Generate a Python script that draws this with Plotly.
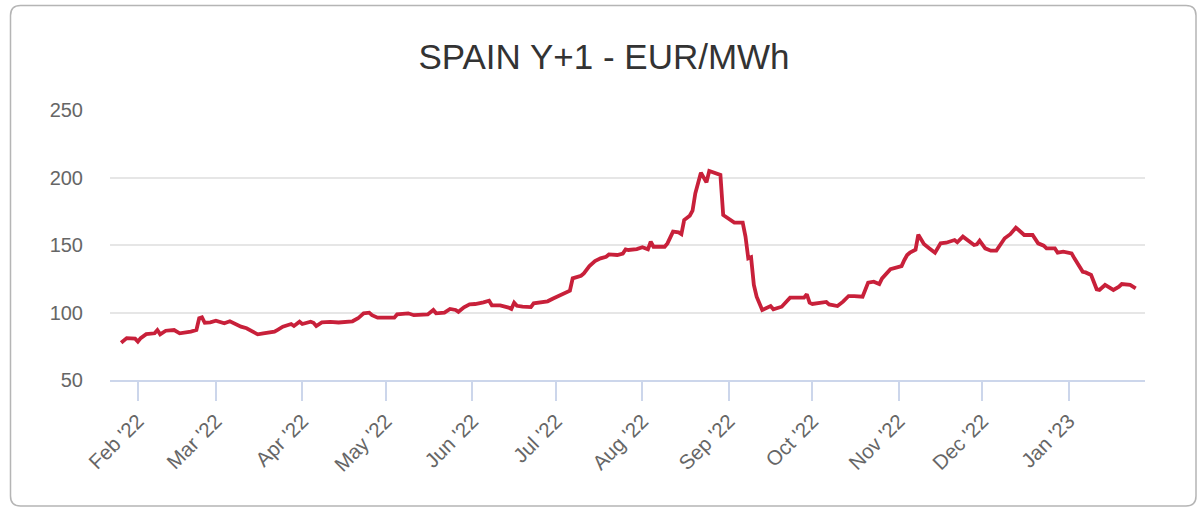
import plotly.graph_objects as go

title_text = "SPAIN Y+1 - EUR/MWh"

dates = [
    "2022-01-26", "2022-01-27", "2022-01-28", "2022-01-31", "2022-02-01", "2022-02-02",
    "2022-02-04", "2022-02-07", "2022-02-08", "2022-02-09", "2022-02-11", "2022-02-14",
    "2022-02-16", "2022-02-20", "2022-02-22", "2022-02-23", "2022-02-24", "2022-02-25",
    "2022-02-27", "2022-03-01", "2022-03-04", "2022-03-06", "2022-03-08", "2022-03-10",
    "2022-03-12", "2022-03-14", "2022-03-16", "2022-03-18", "2022-03-22", "2022-03-23",
    "2022-03-25", "2022-03-28", "2022-03-29", "2022-03-31", "2022-04-01", "2022-04-04",
    "2022-04-05", "2022-04-06", "2022-04-08", "2022-04-11", "2022-04-14", "2022-04-19",
    "2022-04-21", "2022-04-23", "2022-04-25", "2022-04-26", "2022-04-28", "2022-05-04",
    "2022-05-05", "2022-05-09", "2022-05-11", "2022-05-16", "2022-05-17", "2022-05-18",
    "2022-05-19", "2022-05-22", "2022-05-24", "2022-05-26", "2022-05-27", "2022-05-29",
    "2022-05-31", "2022-06-02", "2022-06-05", "2022-06-07", "2022-06-08", "2022-06-11",
    "2022-06-14", "2022-06-15", "2022-06-16", "2022-06-17", "2022-06-19", "2022-06-22",
    "2022-06-23", "2022-06-26", "2022-06-28", "2022-06-30", "2022-07-02", "2022-07-05",
    "2022-07-06", "2022-07-07", "2022-07-10", "2022-07-11", "2022-07-13", "2022-07-15",
    "2022-07-17", "2022-07-19", "2022-07-20", "2022-07-23", "2022-07-25", "2022-07-26",
    "2022-07-27", "2022-07-30", "2022-08-01", "2022-08-03", "2022-08-04", "2022-08-05",
    "2022-08-09", "2022-08-10", "2022-08-12", "2022-08-14", "2022-08-15", "2022-08-16",
    "2022-08-18", "2022-08-19", "2022-08-20", "2022-08-22", "2022-08-24", "2022-08-25",
    "2022-08-27", "2022-08-29", "2022-08-30", "2022-09-01", "2022-09-03", "2022-09-06",
    "2022-09-07", "2022-09-08", "2022-09-09", "2022-09-10", "2022-09-11", "2022-09-13",
    "2022-09-16", "2022-09-17", "2022-09-20", "2022-09-23", "2022-09-28", "2022-09-29",
    "2022-09-30", "2022-10-01", "2022-10-04", "2022-10-06", "2022-10-07", "2022-10-10",
    "2022-10-12", "2022-10-13", "2022-10-14", "2022-10-16", "2022-10-19", "2022-10-21",
    "2022-10-23", "2022-10-25", "2022-10-26", "2022-10-29", "2022-10-31", "2022-11-02",
    "2022-11-03", "2022-11-04", "2022-11-05", "2022-11-06", "2022-11-07", "2022-11-08",
    "2022-11-10", "2022-11-12", "2022-11-14", "2022-11-16", "2022-11-18", "2022-11-21",
    "2022-11-22", "2022-11-24", "2022-11-26", "2022-11-28", "2022-11-29", "2022-11-30",
    "2022-12-02", "2022-12-04", "2022-12-06", "2022-12-07", "2022-12-09", "2022-12-11",
    "2022-12-13", "2022-12-14", "2022-12-16", "2022-12-19", "2022-12-21", "2022-12-23",
    "2022-12-24", "2022-12-27", "2022-12-28", "2022-12-30", "2023-01-02", "2023-01-03",
    "2023-01-06", "2023-01-07", "2023-01-09", "2023-01-11", "2023-01-12", "2023-01-14",
    "2023-01-17", "2023-01-19", "2023-01-20", "2023-01-23", "2023-01-25",
]

prices = [
    77.6, 78.9, 81.0, 80.6, 78.4, 81.0,
    84.0, 84.6, 87.0, 83.8, 86.5, 87.0,
    84.6, 85.8, 87.0, 95.7, 96.4, 92.4,
    92.7, 93.9, 92.0, 93.5, 91.2, 89.5,
    88.3, 85.8, 83.8, 84.6, 85.8, 87.0,
    89.5, 91.5, 90.0, 93.2, 91.5, 93.2,
    92.4, 90.0, 92.7, 93.0, 92.6, 93.5,
    95.7, 99.4, 99.9, 98.0, 96.2, 96.2,
    98.6, 99.4, 98.0, 98.6, 99.9, 101.9,
    99.4, 99.9, 102.6, 101.9, 100.5, 103.8,
    106.0, 106.3, 107.5, 108.7, 105.3, 105.3,
    103.6, 102.6, 107.3, 105.0, 104.3, 104.0,
    106.8, 107.5, 108.3, 110.4, 112.4, 114.7,
    116.2, 125.3, 127.2, 129.0, 134.4, 138.1,
    140.1, 141.3, 143.0, 142.6, 143.6, 146.8,
    146.3, 147.0, 148.3, 146.8, 152.4, 148.7,
    148.7, 151.2, 159.9, 159.4, 158.1, 168.5,
    171.7, 175.4, 188.3, 203.6, 196.4, 204.8,
    203.6, 201.9, 172.2, 169.0, 166.6, 166.6,
    156.2, 140.1, 140.9, 120.4, 111.7, 101.9,
    104.8, 102.4, 104.3, 111.0, 111.0, 113.5,
    107.3, 106.3, 107.3, 107.8, 106.0, 104.8,
    108.0, 109.8, 112.2, 112.2, 111.7, 122.1,
    122.8, 121.1, 125.3, 132.0, 133.2, 134.4,
    138.9, 142.6, 144.3, 145.8, 146.5, 157.7,
    150.7, 147.5, 144.3, 151.2, 151.7, 153.7,
    152.0, 156.2, 153.2, 150.0, 150.5, 153.2,
    147.5, 145.8, 145.8, 148.8, 155.0, 158.0,
    162.8, 161.1, 157.4, 157.4, 151.2, 149.5,
    147.5, 147.5, 144.3, 145.0, 143.8, 140.1,
    130.2, 129.7, 127.8, 117.2, 116.7, 120.4,
    116.7, 119.1, 121.1, 120.4, 117.9,
]

tick_dates = [
    "2022-02-01", "2022-03-01", "2022-04-01", "2022-05-01", "2022-06-01", "2022-07-01",
    "2022-08-01", "2022-09-01", "2022-10-01", "2022-11-01", "2022-12-01", "2023-01-01",
]
tick_labels = [
    "Feb '22", "Mar '22", "Apr '22", "May '22", "Jun '22", "Jul '22",
    "Aug '22", "Sep '22", "Oct '22", "Nov '22", "Dec '22", "Jan '23",
]
y_ticks = [50, 100, 150, 200, 250]

W, H = 1198, 508
L, R, T, B = 110, 53, 110, 128
pw, ph = W - L - R, H - T - B

fig = go.Figure()
fig.add_trace(go.Scatter(
    x=dates, y=prices, mode="lines",
    line=dict(color="#c8203a", width=3.8),
    hoverinfo="x+y", showlegend=False,
))

# card border (rounded), in paper coordinates relative to plot area
def px2x(p):
    return (p - L) / pw

def py2y(p):
    return (H - B - p) / ph

x0, x1 = px2x(10.5), px2x(1196)
y0, y1 = py2y(506), py2y(5.5)
rx, ry = 10 / pw, 10 / ph
path = (f"M {x0+rx},{y1} L {x1-rx},{y1} Q {x1},{y1} {x1},{y1-ry} "
        f"L {x1},{y0+ry} Q {x1},{y0} {x1-rx},{y0} L {x0+rx},{y0} "
        f"Q {x0},{y0} {x0},{y0+ry} L {x0},{y1-ry} Q {x0},{y1} {x0+rx},{y1} Z")
fig.add_shape(type="path", path=path, xref="paper", yref="paper",
              line=dict(color="#b5b5b5", width=1.5), layer="below")

fig.update_layout(
    width=W, height=H,
    margin=dict(l=L, r=R, t=T, b=B),
    paper_bgcolor="white", plot_bgcolor="white",
    title=dict(text=title_text, x=604 / W, xref="container", xanchor="center",
               y=1 - 57 / H, yref="container", yanchor="middle",
               font=dict(family="Liberation Sans, Arial, sans-serif", size=35, color="#333333")),
    font=dict(family="Liberation Sans, Arial, sans-serif"),
    xaxis=dict(
        type="date",
        range=["2022-01-22", "2023-01-28 08:00"],
        tickvals=tick_dates, ticktext=tick_labels,
        tickangle=-45,
        ticks="outside", ticklen=19, tickwidth=2, tickcolor="#ccd6eb",
        showline=True, linecolor="#ccd6eb", linewidth=2,
        showgrid=False, zeroline=False,
        tickfont=dict(size=20.5, color="#666666"),
    ),
    yaxis=dict(
        range=[50, 250], tickvals=y_ticks,
        showgrid=True, gridcolor="#e6e6e6", gridwidth=1.5,
        zeroline=False, showline=False, ticks="",
        ticklabelstandoff=26,
        tickfont=dict(size=20, color="#666666"),
    ),
)

fig.write_html("out.html", config={"displayModeBar": False},
               post_script="document.body.style.margin='0';")
